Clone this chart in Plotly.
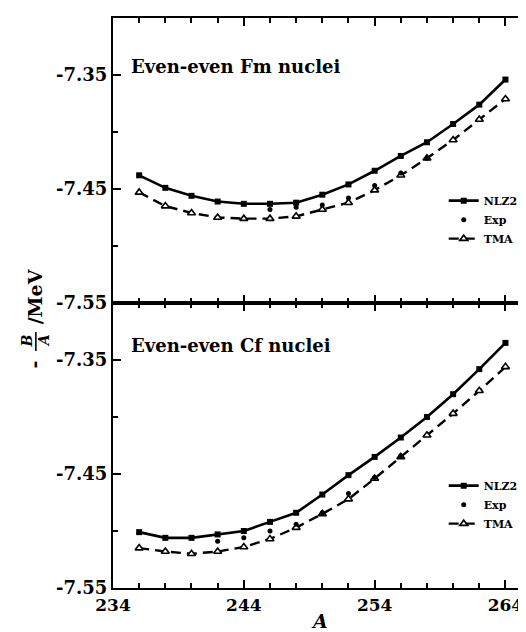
import plotly.graph_objects as go

# ---------------- data ----------------
mass_A = [236, 238, 240, 242, 244, 246, 248, 250, 252, 254, 256, 258, 260, 262, 264]

fm_nlz2 = [-7.438, -7.449, -7.456, -7.461, -7.463, -7.463, -7.462, -7.455,
           -7.446, -7.434, -7.421, -7.409, -7.393, -7.376, -7.354]
fm_tma = [-7.453, -7.465, -7.471, -7.475, -7.476, -7.476, -7.474, -7.468,
          -7.462, -7.451, -7.438, -7.423, -7.407, -7.389, -7.371]
fm_exp_A = [246, 248, 250, 252, 254, 256, 258]
fm_exp = [-7.468, -7.466, -7.464, -7.458, -7.447, -7.436, -7.423]

cf_nlz2 = [-7.501, -7.506, -7.506, -7.503, -7.500, -7.492, -7.484, -7.468,
           -7.451, -7.435, -7.418, -7.400, -7.380, -7.358, -7.335]
cf_tma = [-7.515, -7.518, -7.520, -7.518, -7.514, -7.507, -7.497, -7.485,
          -7.472, -7.454, -7.435, -7.416, -7.397, -7.377, -7.356]
cf_exp_A = [242, 244, 246, 248, 250, 252, 254, 256]
cf_exp = [-7.509, -7.506, -7.500, -7.494, -7.484, -7.467, -7.453, -7.434]

x_ticks = [234, 244, 254, 264]
x_ticktext = ["234", "244", "254", "264"]
x_minor = [236, 238, 240, 242, 246, 248, 250, 252, 256, 258, 260, 262]
y_ticks = [-7.55, -7.45, -7.35]
y_ticktext = ["-7.55", "-7.45", "-7.35"]
y_minor = [-7.50, -7.40, -7.30]

panel_titles = ["Even-even Fm nuclei", "Even-even Cf nuclei"]
series_names = ["NLZ2", "Exp", "TMA"]

# ---------------- figure ----------------
SERIF = "DejaVu Serif"
fig = go.Figure()

panels = [
    (fm_nlz2, fm_tma, fm_exp_A, fm_exp, "x", "y", "legend"),
    (cf_nlz2, cf_tma, cf_exp_A, cf_exp, "x2", "y2", "legend2"),
]
for nlz2, tma, expA, exp, xa, ya, lg in panels:
    fig.add_trace(go.Scatter(
        x=mass_A, y=nlz2, name=series_names[0], mode="lines+markers",
        line=dict(color="black", width=2.6),
        marker=dict(symbol="square", size=6, color="black"),
        xaxis=xa, yaxis=ya, legend=lg, legendrank=1))
    fig.add_trace(go.Scatter(
        x=mass_A, y=tma, name=series_names[2], mode="lines+markers",
        line=dict(color="black", width=2.4, dash="10px,6px"),
        marker=dict(symbol="triangle-up", size=7, color="white",
                    line=dict(color="black", width=1.6)),
        xaxis=xa, yaxis=ya, legend=lg, legendrank=3))
    fig.add_trace(go.Scatter(
        x=expA, y=exp, name=series_names[1], mode="markers",
        marker=dict(symbol="circle", size=5, color="black"),
        xaxis=xa, yaxis=ya, legend=lg, legendrank=2))

axis_common = dict(
    showline=True, linecolor="black", linewidth=2.2, mirror="ticks",
    ticks="inside", tickcolor="black", tickwidth=2, showgrid=False,
    zeroline=False,
)
xrange = [234.0, 265.8]
fig.update_layout(
    width=526, height=632,
    margin=dict(l=105, r=3, t=10, b=52),
    paper_bgcolor="white", plot_bgcolor="white",
    font=dict(family=SERIF, color="black"),
    xaxis=dict(axis_common, range=xrange, domain=[0, 1], anchor="y",
               tickmode="array", tickvals=x_ticks, ticktext=x_ticktext,
               ticklen=8, showticklabels=False,
               minor=dict(tickmode="array", tickvals=x_minor, ticklen=5,
                          tickwidth=2, ticks="inside", tickcolor="black")),
    yaxis=dict(axis_common, range=[-7.55, -7.30], domain=[0.5, 1], anchor="x",
               tickmode="array", tickvals=y_ticks, ticktext=y_ticktext,
               ticklen=8, tickfont=dict(family=SERIF, size=18, weight="bold"),
               minor=dict(tickmode="array", tickvals=y_minor, ticklen=5,
                          tickwidth=2, ticks="inside", tickcolor="black")),
    xaxis2=dict(axis_common, range=xrange, domain=[0, 1], anchor="y2",
                tickmode="array", tickvals=x_ticks, ticktext=x_ticktext,
                ticklen=8, tickfont=dict(family=SERIF, size=17, weight="bold"),
                minor=dict(tickmode="array", tickvals=x_minor, ticklen=5,
                           tickwidth=2, ticks="inside", tickcolor="black")),
    yaxis2=dict(axis_common, range=[-7.55, -7.30], domain=[0, 0.5], anchor="x2",
                tickmode="array", tickvals=y_ticks, ticktext=y_ticktext,
                ticklen=8, tickfont=dict(family=SERIF, size=18, weight="bold"),
                minor=dict(tickmode="array", tickvals=y_minor, ticklen=5,
                           tickwidth=2, ticks="inside", tickcolor="black")),
    legend=dict(x=0.795, y=0.705, xanchor="left", yanchor="top",
                bgcolor="rgba(0,0,0,0)", font=dict(family=SERIF, size=11, weight="bold"),
                itemwidth=30, tracegroupgap=0),
    legend2=dict(x=0.795, y=0.205, xanchor="left", yanchor="top",
                 bgcolor="rgba(0,0,0,0)", font=dict(family=SERIF, size=11, weight="bold"),
                 itemwidth=30, tracegroupgap=0),
    showlegend=True,
)

PX_L, PX_B, PW, PH = 105, 580, 418, 570


def px(xp):
    return (xp - PX_L) / PW


def py(yp):
    return (PX_B - yp) / PH


title_font = dict(family=SERIF, size=18, weight="bold")
ann = []
ann.append(dict(text=panel_titles[0], x=px(121), y=py(58), xref="paper", yref="paper",
                xanchor="left", yanchor="middle", showarrow=False, font=title_font))
ann.append(dict(text=panel_titles[1], x=px(121), y=py(337), xref="paper", yref="paper",
                xanchor="left", yanchor="middle", showarrow=False, font=title_font))
# x axis title
ann.append(dict(text="<i>A</i>", x=px(312), y=py(613), xref="paper", yref="paper",
                xanchor="center", yanchor="middle", showarrow=False,
                font=dict(family=SERIF, size=19, weight="bold")))
# y axis title:  -B/A /MeV  (fraction built from pieces)
yt_font = dict(family=SERIF, size=19, weight="bold")
ann.append(dict(text="-", x=px(26), y=py(356), xref="paper", yref="paper",
                xanchor="center", yanchor="middle", showarrow=False, textangle=-90,
                font=yt_font))
ann.append(dict(text="<i>B</i>", x=px(19), y=py(333), xref="paper", yref="paper",
                xanchor="center", yanchor="middle", showarrow=False, textangle=-90,
                font=dict(family=SERIF, size=14, weight="bold")))
ann.append(dict(text="<i>A</i>", x=px(36), y=py(333), xref="paper", yref="paper",
                xanchor="center", yanchor="middle", showarrow=False, textangle=-90,
                font=dict(family=SERIF, size=14, weight="bold")))
ann.append(dict(text="/MeV", x=px(27), y=py(288), xref="paper", yref="paper",
                xanchor="center", yanchor="middle", showarrow=False, textangle=-90,
                font=yt_font))
fig.update_layout(annotations=ann)
fig.add_shape(type="line", xref="paper", yref="paper",
              x0=px(27.5), x1=px(27.5), y0=py(324), y1=py(343),
              line=dict(color="black", width=1.6))

fig.write_html("out.html")
